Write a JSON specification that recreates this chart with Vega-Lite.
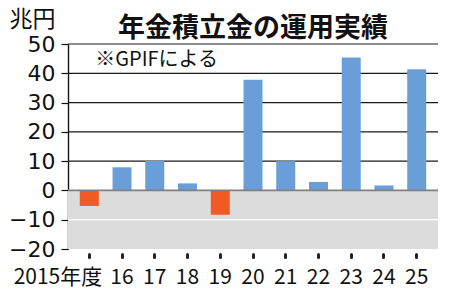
{
  "$schema": "https://vega.github.io/schema/vega-lite/v6.json",
  "autosize": {"type": "none"},
  "width": 370,
  "height": 205,
  "padding": {"left": 68, "top": 44, "right": 12, "bottom": 49},
  "background": "white",
  "config": {"view": {"stroke": null}, "font": "Noto Sans CJK JP"},
  "title": {
    "text": "年金積立金の運用実績",
    "font": "Noto Sans CJK JP",
    "fontSize": 27,
    "fontWeight": "bold",
    "color": "#111",
    "anchor": "middle",
    "offset": 4,
    "dy": 39
  },
  "data": {"values": [{}]},
  "datasets": {
    "returns": [
      {"年度": "2015年度", "兆円": -5.3},
      {"年度": "16", "兆円": 7.9},
      {"年度": "17", "兆円": 10.1},
      {"年度": "18", "兆円": 2.4},
      {"年度": "19", "兆円": -8.3},
      {"年度": "20", "兆円": 37.8},
      {"年度": "21", "兆円": 10.0},
      {"年度": "22", "兆円": 2.9},
      {"年度": "23", "兆円": 45.4},
      {"年度": "24", "兆円": 1.7},
      {"年度": "25", "兆円": 41.4}
    ],
    "grid": [
      {"v": 10}, {"v": 20}, {"v": 30}, {"v": 40}, {"v": 50}, {"v": -10}
    ]
  },
  "layer": [
    {
      "mark": {"type": "rect", "color": "#dcdcdc"},
      "encoding": {
        "y": {
          "datum": 0, "type": "quantitative",
          "scale": {"domain": [-20, 50], "nice": false},
          "axis": {
            "values": [-20, -10, 0, 10, 20, 30, 40, 50],
            "tickCount": 8,
            "grid": false,
            "labelOverlap": false,
            "labelFlush": false,
            "domain": true,
            "domainColor": "#111", "domainWidth": 1.4,
            "tickColor": "#111", "tickSize": 7, "tickWidth": 1.2,
            "labelFont": "DejaVu Sans", "labelFontSize": 22, "labelColor": "#111",
            "labelPadding": 6,
            "title": "兆円",
            "titleFont": "Noto Sans CJK JP", "titleFontSize": 23, "titleFontWeight": "normal",
            "titleColor": "#111",
            "titleAngle": 0, "titleAlign": "left", "titleBaseline": "middle",
            "titleX": -59, "titleY": -25
          }
        },
        "y2": {"datum": -20}
      }
    },
    {
      "data": {"name": "grid"},
      "mark": {"type": "rule", "strokeWidth": 1.2},
      "encoding": {
        "y": {"field": "v", "type": "quantitative"},
        "color": {"condition": {"test": "datum.v < 0", "value": "white"}, "value": "#1a1a1a"}
      }
    },
    {
      "data": {"name": "returns"},
      "mark": {"type": "bar"},
      "encoding": {
        "x": {
          "field": "年度", "type": "nominal", "sort": null,
          "scale": {"paddingInner": 0.42, "paddingOuter": 0.36},
          "axis": {
            "title": null, "domain": false, "grid": false,
            "ticks": true, "tickSize": 3, "tickWidth": 3, "tickCap": "round", "tickColor": "#222",
            "offset": 5,
            "labelAngle": 0,
            "labelFont": "Liberation Sans Narrow, Noto Sans CJK JP",
            "labelFontSize": 21,
            "labelColor": "#111",
            "labelPadding": 9,
            "labelOverlap": false,
            "labelAlign": {"condition": {"test": "datum.value == '2015年度'", "value": "right"}, "value": "center"},
            "labelOffset": {"condition": {"test": "datum.value == '2015年度'", "value": 13}, "value": 0}
          }
        },
        "y": {"field": "兆円", "type": "quantitative"},
        "color": {"condition": {"test": "datum['兆円'] < 0", "value": "#f15a24"}, "value": "#6a9ed8"}
      }
    },
    {
      "mark": {"type": "rule", "color": "#808080", "strokeWidth": 1.8},
      "encoding": {"y": {"datum": 0}}
    },
    {
      "mark": {"type": "text", "align": "left", "baseline": "middle", "font": "Noto Sans CJK JP", "fontSize": 20, "color": "#111", "dx": 6},
      "encoding": {
        "x": {"datum": "2015年度"},
        "y": {"datum": 44.5},
        "text": {"value": "※GPIFによる"}
      }
    }
  ]
}
